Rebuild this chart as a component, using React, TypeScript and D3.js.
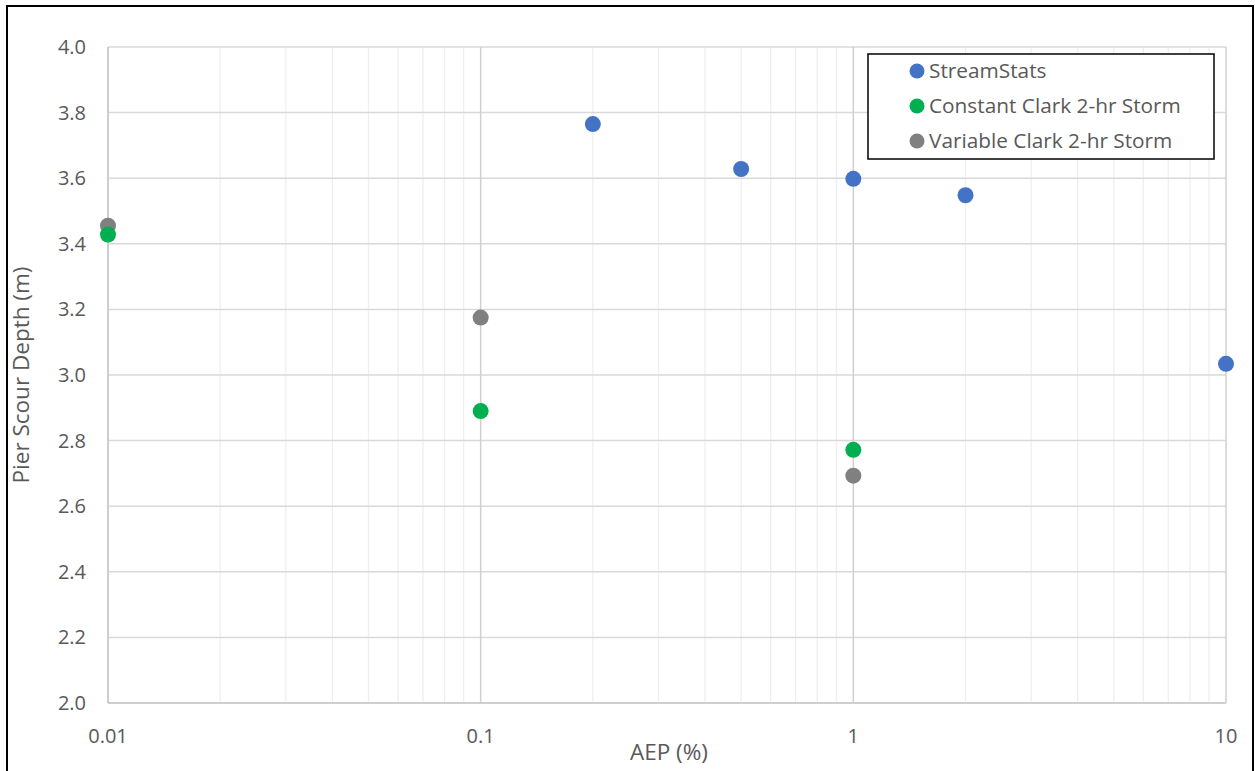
import React from "react";
import * as d3 from "d3";

const W = 1255;
const H = 771;

const streamAEP = [0.2, 0.5, 1, 2, 10];
const streamDepth = [3.765, 3.628, 3.598, 3.548, 3.034];
const constAEP = [0.01, 0.1, 1];
const constDepth = [3.428, 2.89, 2.772];
const varAEP = [0.01, 0.1, 1];
const varDepth = [3.455, 3.175, 2.693];

const xTicks = [0.01, 0.1, 1, 10];
const yTicks = [2.0, 2.2, 2.4, 2.6, 2.8, 3.0, 3.2, 3.4, 3.6, 3.8, 4.0];

const seriesNames = ["StreamStats", "Constant Clark 2-hr Storm", "Variable Clark 2-hr Storm"];
const seriesColors = ["#4472C4", "#00B050", "#808080"];

const FONT = "'Open Sans', sans-serif";
const TXT = "#595959";

export default function App() {
  const left = 108, right = 1226, top = 47, bottom = 703;
  const x = d3.scaleLog().domain([0.01, 10]).range([left, right]);
  const y = d3.scaleLinear().domain([2, 4]).range([bottom, top]);

  const minor: number[] = [];
  for (let dec = 0.01; dec < 10; dec *= 10) {
    for (let k = 2; k <= 9; k++) minor.push(dec * k);
  }

  const series = [
    { xs: streamAEP, ys: streamDepth, c: seriesColors[0] },
    { xs: varAEP, ys: varDepth, c: seriesColors[2] },
    { xs: constAEP, ys: constDepth, c: seriesColors[1] },
  ];

  return (
    <svg width={W} height={H} style={{ position: "absolute", left: 0, top: 0, background: "#fff" }}>
      <rect x={0} y={0} width={W} height={H} fill="#fff" />
      <rect x={7} y={6} width={1246} height={820} fill="none" stroke="#000" strokeWidth={2} />
      {minor.map((v, i) => (
        <line key={"m" + i} x1={x(v)} x2={x(v)} y1={top} y2={bottom} stroke="#efefef" strokeWidth={1.3} />
      ))}
      {yTicks.map((v, i) => (
        <line key={"h" + i} x1={left} x2={right} y1={y(v)} y2={y(v)} stroke="#d9d9d9" strokeWidth={1.5} />
      ))}
      {xTicks.map((v, i) => (
        <line key={"v" + i} x1={x(v)} x2={x(v)} y1={top} y2={bottom} stroke="#d0d0d0" strokeWidth={1.5} />
      ))}
      <line x1={left} x2={left} y1={top} y2={bottom} stroke="#c8c8c8" strokeWidth={1.5} />
      <line x1={left} x2={right} y1={bottom} y2={bottom} stroke="#c8c8c8" strokeWidth={1.5} />

      {yTicks.map((v, i) => (
        <text key={"yl" + i} x={86} y={y(v) + 7} textAnchor="end" fontFamily={FONT} fontSize={20} fill={TXT}>
          {v.toFixed(1)}
        </text>
      ))}
      {xTicks.map((v, i) => (
        <text key={"xl" + i} x={x(v)} y={743} textAnchor="middle" fontFamily={FONT} fontSize={20} fill={TXT}>
          {String(v)}
        </text>
      ))}
      <text x={(left + right) / 2 + 2} y={760} textAnchor="middle" fontFamily={FONT} fontSize={22.5} fill={TXT}>
        AEP (%)
      </text>
      <text
        transform={`translate(29,${(top + bottom) / 2}) rotate(-90)`}
        textAnchor="middle"
        fontFamily={FONT}
        fontSize={22.5}
        fill={TXT}
      >
        Pier Scour Depth (m)
      </text>

      {series.map((s, si) =>
        s.xs.map((v, i) => (
          <circle key={si + "-" + i} cx={x(v)} cy={y(s.ys[i])} r={8} fill={s.c} />
        ))
      )}

      <rect x={868} y={54} width={346} height={105} fill="#fff" stroke="#000" strokeWidth={1.5} />
      {seriesNames.map((n, i) => (
        <g key={"lg" + i}>
          <circle cx={917} cy={71 + i * 35} r={7.5} fill={seriesColors[i]} />
          <text x={929} y={71 + i * 35 + 7} fontFamily={FONT} fontSize={20.8} fill={TXT}>
            {n}
          </text>
        </g>
      ))}
    </svg>
  );
}
